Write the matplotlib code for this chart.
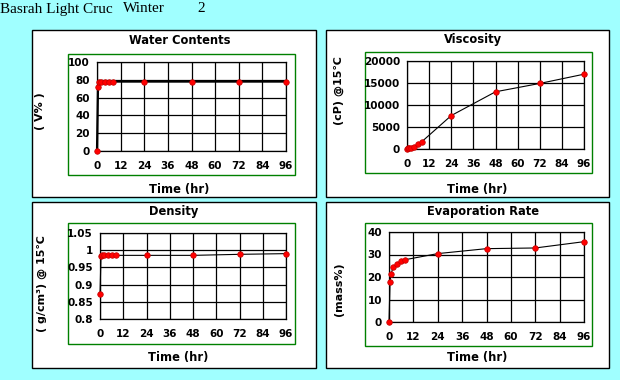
import matplotlib
matplotlib.use('Agg')
import matplotlib.pyplot as plt
from matplotlib.patches import Rectangle

# sampling times (hr)
time_hr = [0, 0.5, 1, 2, 4, 6, 8, 24, 48, 72, 96]

water = [0, 72, 77, 78, 78, 78, 78, 78, 78, 78, 78]
viscosity = [50, 150, 250, 300, 350, 1100, 1650, 7600, 13000, 14900, 17000]
density = [0.872, 0.982, 0.985, 0.985, 0.985, 0.985, 0.985, 0.985, 0.985, 0.988, 0.990]
evaporation = [0, 18, 21.3, 24.3, 25.8, 27, 27.7, 30.4, 32.6, 32.9, 35.7]

x_ticks = [0, 12, 24, 36, 48, 60, 72, 84, 96]
water_ticks = [0, 20, 40, 60, 80, 100]
visc_ticks = [0, 5000, 10000, 15000, 20000]
dens_ticks = [0.8, 0.85, 0.9, 0.95, 1.0, 1.05]
dens_labels = ['0.8', '0.85', '0.9', '0.95', '1', '1.05']
evap_ticks = [0, 10, 20, 30, 40]

W, H = 620, 380
fig = plt.figure(figsize=(W / 100, H / 100), dpi=100)
fig.patch.set_facecolor('#a0ffff')

bold = dict(fontweight='bold', family=['DejaVu Sans', 'Noto Sans CJK JP'])


def rect(x0, y0, x1, y1):
    # pixel box (from top-left) -> figure fraction
    return [x0 / W, 1 - y1 / H, (x1 - x0) / W, (y1 - y0) / H]


def ftext(x, y, s, **kw):
    fig.text(x / W, 1 - y / H, s, **kw)


def panel(outer, green, area, title, title_xy, ylabel, ylabel_xy, xlabel_xy,
          yvals, yticks, ylabels, lw=0.8):
    r = rect(*outer)
    fig.add_artist(Rectangle((r[0], r[1]), r[2], r[3], transform=fig.transFigure,
                             facecolor='white', edgecolor='black', lw=1, zorder=-2))
    g = rect(*green)
    fig.add_artist(Rectangle((g[0], g[1]), g[2], g[3], transform=fig.transFigure,
                             facecolor='white', edgecolor='#008000', lw=1, zorder=-1))
    ax = fig.add_axes(rect(*area))
    ax.plot(time_hr, yvals, color='black', lw=lw, zorder=3, clip_on=False)
    ax.plot(time_hr, yvals, 'o', color='red', markersize=4, markeredgecolor='#c00000',
            markeredgewidth=0.5, zorder=4, clip_on=False)
    ax.set_xlim(0, 96)
    ax.set_ylim(yticks[0], yticks[-1])
    ax.set_xticks(x_ticks)
    ax.set_yticks(yticks)
    ax.set_yticklabels(ylabels)
    ax.grid(True, color='black', lw=0.9)
    for s in ax.spines.values():
        s.set_color('black')
        s.set_linewidth(0.9)
    ax.tick_params(length=0, labelsize=7.5)
    ax.tick_params(axis='x', pad=7)
    ax.tick_params(axis='y', pad=5)
    for lab in ax.get_xticklabels() + ax.get_yticklabels():
        lab.set_fontweight('bold')
    ftext(*title_xy, title, ha='center', va='center', fontsize=8.3, **bold)
    ftext(*ylabel_xy, ylabel, ha='center', va='center', rotation=90, fontsize=8, **bold)
    ftext(*xlabel_xy, 'Time (hr)', ha='center', va='center', fontsize=8.3, **bold)
    return ax


panel((32, 30, 316, 197), (68, 54, 295, 175), (97, 62, 286, 151),
      'Water Contents', (180, 41), '( V% )', (40, 111), (179, 189),
      water, water_ticks, [str(v) for v in water_ticks], lw=1.6)
panel((326, 30, 609, 197), (365, 52, 592, 173), (407, 61, 584, 149),
      'Viscosity', (473, 39), '(cP) @15℃', (339, 91), (477, 189),
      viscosity, visc_ticks, [str(v) for v in visc_ticks])
panel((32, 202, 316, 368), (68, 223, 295, 344), (100, 233, 286, 319),
      'Density', (174, 212), '( g/cm³) @ 15℃', (42, 284), (178, 358),
      density, dens_ticks, dens_labels)
panel((326, 202, 609, 368), (365, 223, 592, 346), (389, 232, 584, 322),
      'Evaporation Rate', (483, 212), '(mass%)', (339, 289), (477, 358),
      evaporation, evap_ticks, [str(v) for v in evap_ticks])

serif = dict(family='Liberation Serif', fontsize=11, va='center', ha='left')
ftext(0, 9, 'Basrah Light Cruc', **serif)
ftext(123, 9, 'Winter', **serif)
ftext(197, 9, '2', **serif)

fig.savefig('out.png', dpi=100, facecolor=fig.get_facecolor())
